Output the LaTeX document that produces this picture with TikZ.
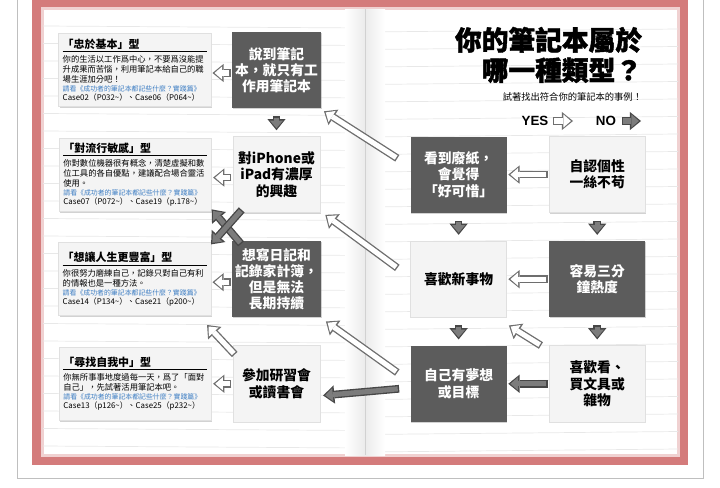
\documentclass[tikz,border=0pt]{standalone}
\usepackage{fontspec}
\setmainfont{Noto Sans CJK TC}
\newfontfamily\heavyfont{Noto Sans CJK TC}[FakeBold=1.5]
\newfontfamily\latinfont{Liberation Sans}
\usetikzlibrary{arrows.meta,positioning,shadows}
\definecolor{framec}{HTML}{D47B7B}
\definecolor{darkc}{HTML}{5C5C5C}
\definecolor{lightc}{HTML}{F4F4F4}
\definecolor{linkc}{HTML}{3F7FC4}
\definecolor{yesc}{HTML}{6E6E6E}
\definecolor{noc}{HTML}{7C7C7C}

\begin{document}
\begin{tikzpicture}[
  x=0.025cm, y=-0.025cm,
  node distance=0.7cm and 2.25cm,
  dark/.style={fill=darkc, text=white, minimum width=2.175cm, minimum height=1.9cm,
    align=center, inner sep=2pt, font=\fontsize{9.8}{11.5}\selectfont\bfseries,
    drop shadow={shadow xshift=0.6pt, shadow yshift=-0.9pt, opacity=0.35}},
  light/.style={dark, fill=lightc, draw=black!12, text=black},
  wide/.style={minimum width=2.4cm},
  result/.style={fill=lightc, draw=black!12, text width=3.6cm, inner sep=0.1cm,
    minimum height=1.825cm, align=left,
    drop shadow={shadow xshift=0.7pt, shadow yshift=-1pt, opacity=0.35}},
  ruled/.style={black!9, line width=0.5pt},
  yesarr/.style 2 args={draw=yesc, line width=5.5pt, shorten <=#1, shorten >=#2,
    -{Triangle[length=8pt, width=13pt, line width=0pt]},
    postaction={draw=white, line width=3.6pt, shorten <=#1+1pt, shorten >=#2+1.5pt,
      -{Triangle[length=5.4pt, width=9.4pt, line width=0pt]}}},
  noarr/.style 2 args={draw=black!72, line width=5.5pt, shorten <=#1, shorten >=#2,
    -{Triangle[length=8pt, width=13pt, line width=0pt]},
    postaction={draw=noc, line width=3.6pt, shorten <=#1+1pt, shorten >=#2+1.5pt,
      -{Triangle[length=5.4pt, width=9.4pt, line width=0pt]}}}
]
  \useasboundingbox (0,0) rectangle (720,487);
  \clip (0,0) rectangle (720,487);

  % card, frame and notebook pages
  \draw[black!25, fill=white, drop shadow={shadow xshift=0pt, shadow yshift=-1pt, opacity=0.3}]
    (17,-20) rectangle (703,478);
  \fill[framec] (32,-20) rectangle (688,465);
  \fill[white] (42,8) rectangle (679,456);
  \draw[framec!35, line width=1.5pt] (42.5,8.5) rectangle (678.5,455.5);
  \foreach \y in {26,43.5,...,450} {
    \draw[ruled] (43,\y) -- (365,\y+2);
    \draw[ruled] (365,\y+6) -- (678,\y+3);
  }
  \shade[left color=white, right color=black!8] (345,9) rectangle (365,455);
  \shade[left color=black!8, right color=white] (365,9) rectangle (385,455);
  \draw[black!18] (365,9) -- (365,455);

  % title and legend
  \node[anchor=east, align=right, font=\heavyfont\bfseries\fontsize{19}{21.5}\selectfont]
    (title) at (647,55) {你的筆記本屬於\\哪一種類型？};
  \node[anchor=east, font=\fontsize{6.6}{8}\selectfont] (sub) at (647,97)
    {試著找出符合你的筆記本的事例！};
  \node[font=\latinfont\bfseries\fontsize{9.5}{11}\selectfont, inner sep=1pt] (yes) at (535,121) {YES};
  \node[font=\latinfont\bfseries\fontsize{9.5}{11}\selectfont, inner sep=1pt] (no) at (606,121) {NO};
  \coordinate (yestip) at (573,121);
  \coordinate (notip) at (641,121);
  \draw[yesarr={2pt}{0pt}] (yes.east) -- (yestip);
  \draw[noarr={3pt}{0pt}] (no.east) -- (notip);

  % question boxes
  \node[dark] (work) at (276.5,70) {說到筆記\\本，就只有工\\作用筆記本};
  \node[light, below=of work] (iphone) {對iPhone或\\iPad有濃厚\\的興趣};
  \node[dark, below=of iphone] (diary) {想寫日記和\\記錄家計簿，\\但是無法\\長期持續};
  \node[light, below=of diary] (study) {參加研習會\\或讀書會};
  \node[dark, wide, right=of iphone] (paper) {看到廢紙，\\會覺得\\「好可惜」};
  \node[light, wide, below=of paper] (new) {喜歡新事物};
  \node[dark, wide, below=of new] (dream) {自己有夢想\\或目標};
  \node[light, wide, right=1.05cm of paper] (neat) {自認個性\\一絲不苟};
  \node[dark, wide, below=of neat] (fickle) {容易三分\\鐘熱度};
  \node[light, wide, below=of fickle] (goods) {喜歡看、\\買文具或\\雜物};

  % result boxes
  \node[result, left=0.525cm of work] (basic) {%
    {\fontsize{7.8}{9}\selectfont\bfseries 「忠於基本」型\par}\vspace{1.5pt}\hrule height 0.5pt\vspace{2.5pt}
    {\fontsize{5.9}{7.1}\selectfont 你的生活以工作爲中心，不要爲沒能提\\升成果而苦惱，利用筆記本給自己的職\\場生涯加分吧！\par}
    {\fontsize{4.9}{6.4}\selectfont\color{linkc}請看《成功者的筆記本都記些什麼？實踐篇》\par}
    {\fontsize{5.6}{6.6}\selectfont Case02（P032\textasciitilde）、Case06（P064\textasciitilde）\par}};
  \node[result, left=0.525cm of iphone] (trend) {%
    {\fontsize{7.8}{9}\selectfont\bfseries 「對流行敏感」型\par}\vspace{1.5pt}\hrule height 0.5pt\vspace{2.5pt}
    {\fontsize{5.9}{7.1}\selectfont 你對數位機器很有概念，清楚虛擬和數\\位工具的各自優點，建議配合場合靈活\\使用。\par}
    {\fontsize{4.9}{6.4}\selectfont\color{linkc}請看《成功者的筆記本都記些什麼？實踐篇》\par}
    {\fontsize{5.6}{6.6}\selectfont Case07（P072\textasciitilde）、Case19（p.178\textasciitilde）\par}};
  \node[result, left=0.525cm of diary] (rich) {%
    {\fontsize{7.8}{9}\selectfont\bfseries 「想讓人生更豐富」型\par}\vspace{1.5pt}\hrule height 0.5pt\vspace{2.5pt}
    {\fontsize{5.9}{7.1}\selectfont 你很努力磨練自己，記錄只對自己有利\\的情報也是一種方法。\par}
    {\fontsize{4.9}{6.4}\selectfont\color{linkc}請看《成功者的筆記本都記些什麼？實踐篇》\par}
    {\fontsize{5.6}{6.6}\selectfont Case14（P134\textasciitilde）、Case21（p200\textasciitilde）\par}};
  \node[result, left=0.525cm of study] (self) {%
    {\fontsize{7.8}{9}\selectfont\bfseries 「尋找自我中」型\par}\vspace{1.5pt}\hrule height 0.5pt\vspace{2.5pt}
    {\fontsize{5.9}{7.1}\selectfont 你無所事事地度過每一天，爲了「面對\\自己」，先試著活用筆記本吧。\par}
    {\fontsize{4.9}{6.4}\selectfont\color{linkc}請看《成功者的筆記本都記些什麼？實踐篇》\par}
    {\fontsize{5.6}{6.6}\selectfont Case13（p126\textasciitilde）、Case25（p232\textasciitilde）\par}};

  % yes
  \draw[yesarr={1pt}{1pt}] (neat.west) -- (paper.east);
  \draw[yesarr={1pt}{1pt}] (fickle.west) -- (new.east);
  \draw[yesarr={0pt}{0pt}] ([shift={(-8,0)}]goods.north west) -- ([shift={(2,8)}]new.south east);
  \draw[yesarr={0pt}{0pt}] ([shift={(-13,22)}]paper.north west) -- ([shift={(3,3)}]work.south east);
  \draw[yesarr={0pt}{0pt}] ([shift={(-13,27)}]new.north west) -- ([shift={(5,2)}]iphone.south east);
  \draw[yesarr={0pt}{0pt}] ([shift={(-13,27)}]dream.north west) -- ([shift={(5,4)}]diary.south east);
  \draw[yesarr={0pt}{0pt}] ([shift={(2,9)}]study.north west) -- ([shift={(-4,9)}]rich.south east);
  \draw[yesarr={1pt}{1pt}] ([shift={(0,3)}]work.west) -- ([shift={(0,3)}]basic.east);
  \draw[yesarr={1pt}{1pt}] ([shift={(0,3)}]iphone.west) -- ([shift={(0,3)}]trend.east);
  \draw[yesarr={1pt}{1pt}] ([shift={(0,3)}]diary.west) -- ([shift={(0,3)}]rich.east);
  \draw[yesarr={1pt}{1pt}] (study.west) -- (self.east);

  % no
  \draw[noarr={5.7pt}{4.3pt}] (work.south) -- (iphone.north);
  \draw[noarr={5.7pt}{4.3pt}] (paper.south) -- (new.north);
  \draw[noarr={5.7pt}{4.3pt}] (new.south) -- (dream.north);
  \draw[noarr={5.7pt}{4.3pt}] (neat.south) -- (fickle.north);
  \draw[noarr={5.7pt}{4.3pt}] (fickle.south) -- (goods.north);
  \draw[noarr={1pt}{1pt}] (goods.west) -- (dream.east);
  \draw[noarr={8pt}{2pt}] ([shift={(0,4)}]dream.west) -- ([shift={(0,12)}]study.east);
  \draw[noarr={0pt}{0pt}] ([shift={(9,3)}]diary.north west) -- ([shift={(0,-2)}]trend.south east);
  \draw[noarr={0pt}{0pt}] ([shift={(9,-3)}]iphone.south west) -- ([shift={(0,2)}]rich.north east);
\end{tikzpicture}
\end{document}
